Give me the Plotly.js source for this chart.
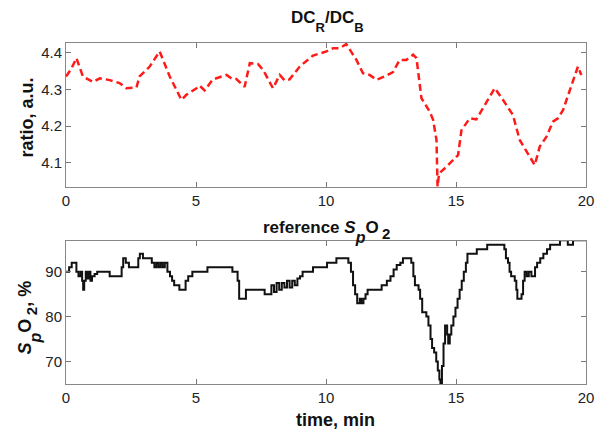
<!DOCTYPE html>
<html>
<head>
<meta charset="utf-8">
<script src="https://cdn.plot.ly/plotly-3.0.1.min.js"></script>
<style>html,body{margin:0;padding:0;background:#fff;}#chart{width:597px;height:429px;}</style>
</head>
<body>
<div id="chart"></div>
<script>
// Top panel: DC_R/DC_B ratio vs time (min)
const ratioTime = [0.0, 0.2, 0.4, 0.65, 1.04, 1.3, 1.68, 2.06, 2.32, 2.71, 2.83, 3.22, 3.6, 3.99, 4.44, 4.63, 5.02, 5.14, 5.33, 5.65, 6.17, 6.36, 6.55, 6.87, 7.07, 7.38, 7.58, 7.96, 8.22, 8.41, 8.6, 8.99, 9.5, 10.02, 10.27, 10.53, 10.78, 11.17, 11.42, 11.68, 11.94, 12.26, 12.58, 12.83, 13.09, 13.35, 13.48, 13.67, 13.99, 14.12, 14.25, 14.29, 14.35, 14.63, 15.08, 15.21, 15.4, 15.53, 15.78, 16.17, 16.49, 16.81, 17.19, 17.45, 17.77, 18.03, 18.22, 18.48, 18.73, 18.92, 19.12, 19.37, 19.69, 19.82];
const ratioValue = [4.335, 4.355, 4.385, 4.335, 4.32, 4.33, 4.325, 4.317, 4.303, 4.305, 4.335, 4.362, 4.403, 4.335, 4.271, 4.285, 4.303, 4.31, 4.297, 4.327, 4.339, 4.33, 4.328, 4.307, 4.371, 4.369, 4.353, 4.303, 4.339, 4.324, 4.327, 4.362, 4.392, 4.403, 4.412, 4.412, 4.423, 4.38, 4.344, 4.339, 4.326, 4.335, 4.347, 4.38, 4.38, 4.394, 4.385, 4.276, 4.239, 4.217, 4.162, 4.035, 4.071, 4.089, 4.121, 4.189, 4.208, 4.221, 4.218, 4.266, 4.303, 4.271, 4.23, 4.162, 4.126, 4.094, 4.144, 4.171, 4.212, 4.221, 4.244, 4.298, 4.362, 4.339];

// Bottom panel: reference SpO2 (%) vs time (min), stepwise
const spo2Time = [0, 0.12, 0.22, 0.4, 0.48, 0.56, 0.62, 0.66, 0.7, 0.76, 0.82, 0.88, 0.94, 1.0, 1.1, 1.2, 1.68, 2.14, 2.2, 2.3, 2.42, 2.78, 2.84, 2.96, 3.3, 3.4, 3.48, 3.56, 3.64, 3.72, 3.8, 3.9, 4.0, 4.08, 4.16, 4.36, 4.6, 4.7, 4.86, 5.44, 6.4, 6.6, 6.66, 6.92, 7.64, 7.9, 8.0, 8.1, 8.2, 8.3, 8.4, 8.5, 8.6, 8.7, 8.8, 8.9, 9.0, 9.1, 9.3, 9.5, 10.04, 10.4, 10.86, 10.96, 11.04, 11.12, 11.2, 11.3, 11.36, 11.44, 11.52, 11.6, 12.14, 12.34, 12.48, 12.6, 12.72, 12.86, 12.96, 13.28, 13.36, 13.42, 13.56, 13.62, 13.7, 13.86, 13.94, 14.02, 14.08, 14.16, 14.24, 14.3, 14.36, 14.4, 14.46, 14.52, 14.58, 14.66, 14.7, 14.76, 14.82, 14.9, 14.98, 15.06, 15.14, 15.22, 15.3, 15.38, 15.44, 15.8, 16.2, 16.82, 16.86, 16.92, 17.0, 17.06, 17.12, 17.26, 17.32, 17.36, 17.52, 17.58, 17.64, 17.72, 17.8, 17.9, 18.04, 18.12, 18.24, 18.36, 18.5, 18.62, 19.0, 19.3, 19.5, 20];
const spo2Value = [90, 91, 92, 90, 89, 90, 88, 86, 88, 90, 88.5, 90, 88, 89, 89.5, 90, 89, 91, 93, 92, 91, 93, 94, 93, 92, 91, 92, 91, 92, 91, 92, 90, 89, 88, 87, 86, 88, 89, 90, 91, 90, 88, 84, 86, 85, 87, 85.5, 87.5, 86, 87.5, 86.5, 88, 86.5, 88, 87, 88.5, 89, 90, 90, 91, 92, 93, 92, 90, 87, 85, 83, 84, 83, 84, 85, 86, 87, 88, 89, 90.5, 91.5, 92, 93, 92, 89, 87, 86, 84, 81, 80, 78, 75, 73, 72, 70, 68, 66, 65, 69, 74, 78, 76, 74, 76, 78, 80, 82, 84, 86, 88, 90, 92, 94, 95, 96, 96, 95, 93, 92, 90, 89, 88, 86, 84, 85, 88, 90, 89, 90, 89, 91, 92, 93, 94, 95, 96, 97, 96, 97, 97];

const xTicks = [0, 5, 10, 15, 20];
const xTickText = ['0', '5', '10', '15', '20'];
const ratioTicks = [4.1, 4.2, 4.3, 4.4];
const ratioTickText = ['4.1', '4.2', '4.3', '4.4'];
const spo2Ticks = [70, 80, 90];
const spo2TickText = ['70', '80', '90'];

const FONT = 'Arial, "Liberation Sans", sans-serif';
const tickFont = {family: FONT, size: 15, color: '#222'};

const axisCommon = {
  ticks: 'inside', ticklen: 5, tickwidth: 1, tickcolor: '#777',
  showline: true, linecolor: '#888', linewidth: 1, mirror: 'ticks',
  showgrid: false, zeroline: false, tickfont: tickFont, automargin: false
};

const traces = [
  {x: ratioTime, y: ratioValue, xaxis: 'x', yaxis: 'y', type: 'scatter', mode: 'lines',
   line: {color: '#ff1a1a', width: 2.5, dash: '7px,4px'}, hoverinfo: 'x+y'},
  {x: spo2Time, y: spo2Value, xaxis: 'x2', yaxis: 'y2', type: 'scatter', mode: 'lines',
   line: {color: '#111', width: 2, shape: 'hv'}, hoverinfo: 'x+y'}
];

function sub(t, size, shift) {
  return '<span style="font-size:' + size + 'px;baseline-shift:-' + shift + 'px">' + t + '</span>';
}
const spo2Label = '<i>S</i>' + sub('<i>p</i>', 16, 10) + 'O&#8201;' + sub('2', 15, 6);

const annFont = (s) => ({family: FONT, size: s, color: '#111'});
const annotations = [
  {xref: 'paper', yref: 'paper', x: 0.503, y: 1.064, xanchor: 'center', yanchor: 'middle', showarrow: false,
   text: '<b>DC' + sub('R', 13, 9) + '/DC' + sub('B', 13, 9) + '</b>', font: annFont(17)},
  {xref: 'paper', yref: 'paper', x: 0.501, y: 0.446, xanchor: 'center', yanchor: 'middle', showarrow: false,
   text: '<b>reference ' + spo2Label + '</b>', font: annFont(17)},
  {xref: 'paper', yref: 'paper', x: 0.518, y: -0.106, xanchor: 'center', yanchor: 'middle', showarrow: false,
   text: '<b>time, min</b>', font: annFont(18)},
  {xref: 'paper', yref: 'paper', x: -0.075, y: 0.7815, xanchor: 'center', yanchor: 'middle', showarrow: false, textangle: -90,
   text: '<b>ratio, a.u.</b>', font: annFont(18)},
  {xref: 'paper', yref: 'paper', x: -0.072, y: 0.1935, xanchor: 'center', yanchor: 'middle', showarrow: false, textangle: -90,
   text: '<b>' + spo2Label + ', %</b>', font: annFont(18)}
];

const layout = {
  width: 597, height: 429,
  margin: {l: 66, r: 11, t: 43, b: 45},
  paper_bgcolor: '#fff', plot_bgcolor: '#fff',
  showlegend: false,
  xaxis: Object.assign({}, axisCommon, {anchor: 'y', domain: [0, 1], range: [0, 20], tickvals: xTicks, ticktext: xTickText}),
  yaxis: Object.assign({}, axisCommon, {anchor: 'x', domain: [0.5786, 1], range: [4.035, 4.426], tickvals: ratioTicks, ticktext: ratioTickText}),
  xaxis2: Object.assign({}, axisCommon, {anchor: 'y2', domain: [0, 1], range: [0, 20], tickvals: xTicks, ticktext: xTickText}),
  yaxis2: Object.assign({}, axisCommon, {anchor: 'x2', domain: [0, 0.4202], range: [65, 96.9], tickvals: spo2Ticks, ticktext: spo2TickText}),
  annotations: annotations
};

Plotly.newPlot('chart', traces, layout, {staticPlot: true, displayModeBar: false});
</script>
</body>
</html>
